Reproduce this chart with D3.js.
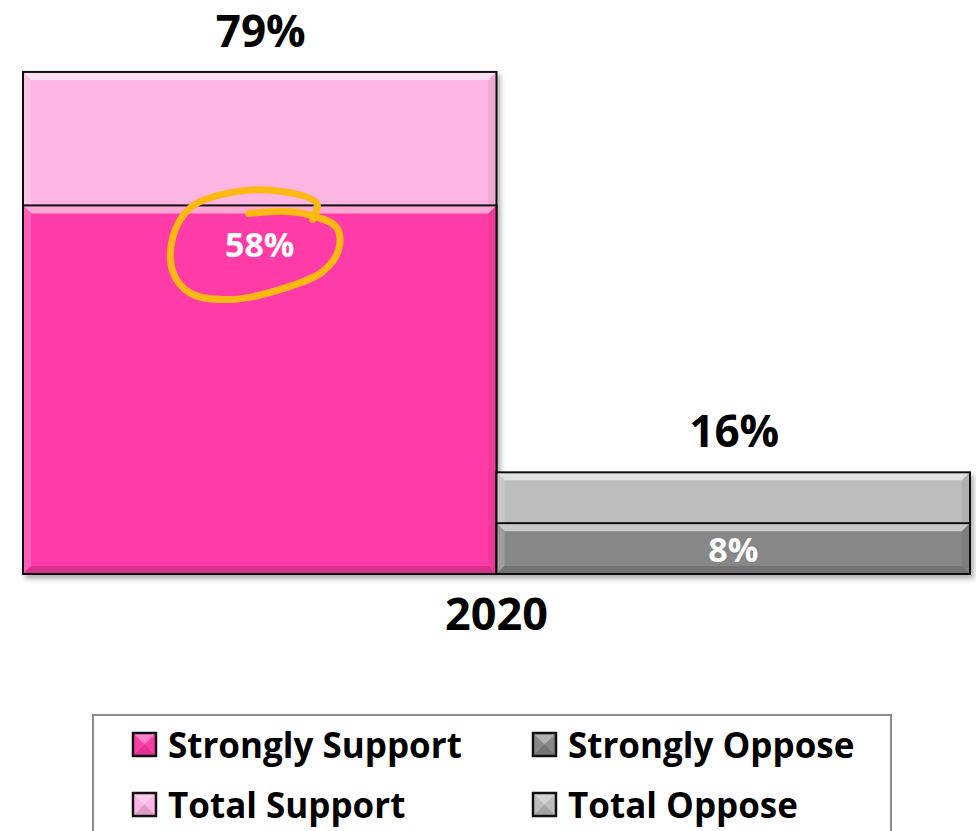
<!DOCTYPE html>
<html>
<head>
<meta charset="utf-8">
<script src="https://cdn.jsdelivr.net/npm/d3@7"></script>
<style>
  body { margin: 0; background: #fff; }
  text { font-family: "Open Sans", Lato, sans-serif; font-weight: bold; }
</style>
</head>
<body>
<script>
// data
var year = "2020";
var groups = ["Support", "Oppose"];
var totalValues = [79, 16];
var strongValues = [58, 8];
var seriesNames = ["Strongly Support", "Strongly Oppose", "Total Support", "Total Oppose"];

var totalColors = ["#fdb5e1", "#bdbdbd"];
var strongColors = ["#ff3ba7", "#878787"];
var legendColors = ["#ff3ba7", "#878787", "#fdb5e1", "#bdbdbd"];

var width = 976, height = 831;

var svg = d3.select("body").append("svg")
    .attr("width", width)
    .attr("height", height);

var defs = svg.append("defs");
var shadow = defs.append("filter").attr("id", "shadow")
    .attr("x", "-5%").attr("y", "-5%").attr("width", "115%").attr("height", "115%");
shadow.append("feDropShadow")
    .attr("dx", 3).attr("dy", 4).attr("stdDeviation", 2.5)
    .attr("flood-color", "#000").attr("flood-opacity", 0.3);

// scales
var xScale = d3.scaleBand().domain(groups).range([23, 970]).padding(0);
var yScale = d3.scaleLinear().domain([0, 80]).range([574, 574 - 80 * 6.355]);

// bevelled box: flat fill + four edge strips
function bevelBox(g, x, y, w, h, fill, b) {
    g.append("rect")
        .attr("x", x).attr("y", y).attr("width", w).attr("height", h)
        .attr("fill", fill);
    var c = d3.color(fill);
    var light = d3.interpolateRgb(fill, "#fff")(0.55);
    var lightSide = d3.interpolateRgb(fill, "#fff")(0.18);
    var dark = c.darker(0.45).formatHex();
    var darkSide = c.darker(0.2).formatHex();
    var x2 = x + w, y2 = y + h;
    var strips = [
        [[x, y], [x2, y], [x2 - b, y + b], [x + b, y + b], light],
        [[x, y], [x + b, y + b], [x + b, y2 - b], [x, y2], lightSide],
        [[x2, y], [x2, y2], [x2 - b, y2 - b], [x2 - b, y + b], darkSide],
        [[x, y2], [x + b, y2 - b], [x2 - b, y2 - b], [x2, y2], dark]
    ];
    strips.forEach(function(s) {
        g.append("polygon")
            .attr("points", s.slice(0, 4).map(function(p) { return p.join(","); }).join(" "))
            .attr("fill", s[4]);
    });
    g.append("rect")
        .attr("x", x).attr("y", y).attr("width", w).attr("height", h)
        .attr("fill", "none").attr("stroke", "#111").attr("stroke-width", 2);
}

var bars = svg.append("g").attr("filter", "url(#shadow)");

groups.forEach(function(grp, i) {
    var x = xScale(grp), w = xScale.bandwidth();
    // total bar behind
    bevelBox(bars, x, yScale(totalValues[i]), w, yScale(0) - yScale(totalValues[i]), totalColors[i], 8);
    // strongly bar in front
    bevelBox(bars, x, yScale(strongValues[i]), w, yScale(0) - yScale(strongValues[i]), strongColors[i], 8);
});

// total labels above bars
svg.selectAll(".total-label")
    .data(groups)
    .enter().append("text")
    .attr("class", "total-label")
    .attr("x", function(d) { return xScale(d) + xScale.bandwidth() / 2 + 1; })
    .attr("y", function(d, i) { return yScale(totalValues[i]) - 25; })
    .attr("text-anchor", "middle")
    .style("font-size", "44px")
    .attr("fill", "#000")
    .text(function(d, i) { return totalValues[i] + "%"; });

// strongly labels inside bars
var strongLabelY = [function(v) { return yScale(v) + 52; }, function(v) { return yScale(v) + 39; }];
svg.selectAll(".strong-label")
    .data(groups)
    .enter().append("text")
    .attr("class", "strong-label")
    .attr("x", function(d) { return xScale(d) + xScale.bandwidth() / 2; })
    .attr("y", function(d, i) { return strongLabelY[i](strongValues[i]); })
    .attr("text-anchor", "middle")
    .style("font-size", "34px")
    .attr("fill", "#fff")
    .text(function(d, i) { return strongValues[i] + "%"; });

// hand-drawn highlight around the strongly support label
var cx = xScale(groups[0]) + xScale.bandwidth() / 2 - 3, cy = strongLabelY[0](strongValues[0]) - 12;
var loopPts = [[-8, -32], [30, -34], [55, -30], [80, -18], [82, 4], [66, 26], [30, 42], [-25, 54], [-66, 48], [-84, 26], [-84, -8], [-66, -38], [-25, -53], [25, -54], [60, -42], [56, -26]];
svg.append("path")
    .attr("d", d3.line().curve(d3.curveCatmullRom)(loopPts.map(function(p) { return [cx + p[0], cy + p[1]]; })))
    .attr("fill", "none")
    .attr("stroke", "#fdb913")
    .attr("stroke-width", 7)
    .attr("stroke-linecap", "round");

// category label
svg.append("text")
    .attr("x", (xScale.range()[0] + xScale.range()[1]) / 2)
    .attr("y", 630)
    .attr("text-anchor", "middle")
    .style("font-size", "45px")
    .text(year);

// legend
svg.append("rect")
    .attr("x", 93).attr("y", 715)
    .attr("width", 798).attr("height", 140)
    .attr("fill", "#fff")
    .attr("stroke", "#8c8c8c")
    .attr("stroke-width", 2);

var legend = svg.selectAll(".legend")
    .data(seriesNames)
    .enter().append("g")
    .attr("class", "legend")
    .attr("transform", function(d, i) {
        return "translate(" + (132 + (i % 2) * 400) + "," + (732 + Math.floor(i / 2) * 60) + ")";
    });

legend.each(function(d, i) {
    var g = d3.select(this);
    var s = 25, c = legendColors[i];
    g.append("rect").attr("width", s).attr("height", s).attr("fill", c);
    var light = d3.interpolateRgb(c, "#fff")(0.35);
    var dark = d3.color(c).darker(0.4).formatHex();
    g.append("polygon").attr("points", "0,0 " + s + ",0 " + s / 2 + "," + s / 2).attr("fill", light);
    g.append("polygon").attr("points", "0," + s + " " + s + "," + s + " " + s / 2 + "," + s / 2).attr("fill", dark);
    g.append("rect").attr("x", 1).attr("y", 1).attr("width", s - 2).attr("height", s - 2)
        .attr("fill", "none").attr("stroke", "#111").attr("stroke-width", 2.5);
    g.append("text")
        .attr("x", 36)
        .attr("y", s + 1)
        .style("font-size", "35px")
        .text(d);
});
</script>
</body>
</html>
